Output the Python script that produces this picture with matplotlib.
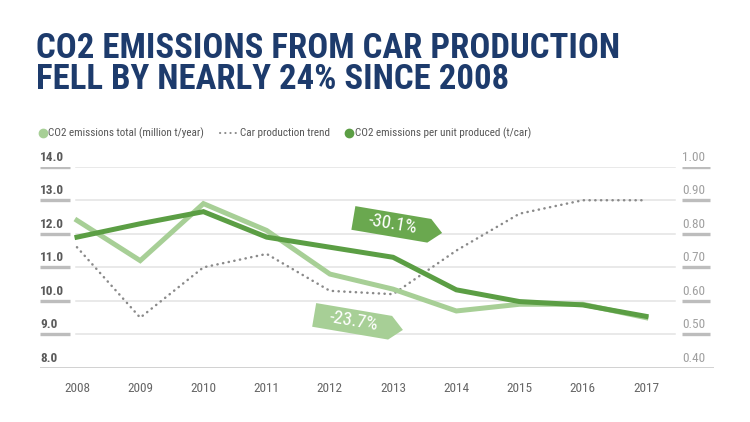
import os

import matplotlib

matplotlib.use("Agg")
import matplotlib.pyplot as plt
import matplotlib.transforms as mtransforms
from matplotlib import font_manager
from matplotlib.font_manager import FontProperties
from matplotlib.lines import Line2D
from matplotlib.patches import Polygon

# Data
years = [2008, 2009, 2010, 2011, 2012, 2013, 2014, 2015, 2016, 2017]
co2_total = [12.4, 11.2, 12.9, 12.1, 10.8, 10.35, 9.7, 9.9, 9.9, 9.5]     # million t/year (left)
car_trend = [11.6, 9.5, 11.0, 11.4, 10.3, 10.2, 11.5, 12.6, 13.0, 13.0]    # index, drawn on left scale
co2_per_unit = [0.79, 0.83, 0.866, 0.79, 0.76, 0.73, 0.633, 0.598, 0.588, 0.554]  # t/car (right)

left_ticks = [8.0, 9.0, 10.0, 11.0, 12.0, 13.0, 14.0]
right_ticks = [0.40, 0.50, 0.60, 0.70, 0.80, 0.90, 1.00]

title_lines = ["CO2 EMISSIONS FROM CAR PRODUCTION", "FELL BY NEARLY 24% SINCE 2008"]
legend_labels = ["CO2 emissions total (million t/year)", "Car production trend",
                 "CO2 emissions per unit produced (t/car)"]
badges = [("-30.1%", 2012.34, 0.812), ("-23.7%", 2011.72, 0.523)]

NAVY = "#1d3b6c"
LIGHT = "#a7cf96"
DARK = "#5b9e44"
DARK_BADGE = "#6aa84f"
GREY_DOT = "#8a8a8a"


def pick_font(prefs, fallback_weight):
    """Busca una fuente condensada instalada; si no, Roboto normal."""
    files = {os.path.basename(f.fname).lower(): f.fname
             for f in font_manager.fontManager.ttflist}
    for p in prefs:
        for base, path in files.items():
            if base.startswith(p):
                return FontProperties(fname=path), True
    return FontProperties(family="Roboto", weight=fallback_weight), False


REG, REG_COND = pick_font(["robotocondensed-regular", "liberationsansnarrow-regular",
                           "notosans-condensed.", "dejavusanscondensed.",
                           "opensans-condensedregular", "opensanscondensed-regular"], "normal")
BOLD, BOLD_COND = pick_font(["robotocondensed-bold.", "liberationsansnarrow-bold.",
                             "notosans-condensedbold.", "dejavusanscondensed-bold.",
                             "opensans-condensedbold", "opensanscondensed-bold"], "bold")


def fp(base, size):
    f = base.copy()
    f.set_size(size)
    return f


fig = plt.figure(figsize=(7.5, 4.22), dpi=100)
ax = fig.add_axes([40 / 750, 54 / 422, 674 / 750, 201.3 / 422])
ax2 = ax.twinx()

ax.set_xlim(2007.415, 2018.076)
ax.set_ylim(8.0, 14.0)
ax2.set_ylim(0.40, 1.00)

for a in (ax, ax2):
    for s in a.spines.values():
        s.set_visible(False)
    a.set_yticks([])
    a.tick_params(length=0)

# grid + short tick bars
yblend = mtransforms.blended_transform_factory(ax.transAxes, ax.transData)
for v in left_ticks[1:]:
    ax.plot([0.0534, 0.942], [v, v], transform=yblend, color="#e3e3e3", lw=1.1, zorder=0)
    ax.plot([0.0, 0.0445], [v, v], transform=yblend, color="#bdbdbd", lw=2.4,
            solid_capstyle="butt", zorder=0)
    ax.plot([0.9525, 0.994], [v, v], transform=yblend, color="#bdbdbd", lw=2.4,
            solid_capstyle="butt", zorder=0)
ax.plot([0, 1], [8.0, 8.0], transform=yblend, color="#c4c4c4", lw=1.8, zorder=0)

tick_size = 9.5 if REG_COND else 8.5
lab_off = mtransforms.offset_copy(yblend, fig=fig, x=0, y=3, units="dots")
for v in left_ticks:
    ax.text(0.0, v, f"{v:.1f}", transform=lab_off, ha="left", va="bottom",
            fontproperties=fp(BOLD, tick_size), color="#5a5a5a")
for v, lv in zip(right_ticks, left_ticks):
    ax.text(0.9525, lv, f"{v:.2f}", transform=lab_off, ha="left", va="bottom",
            fontproperties=fp(REG, tick_size), color="#a0a0a0")

ax.set_xticks(years)
ax.set_xticklabels([str(y) for y in years], fontproperties=fp(REG, tick_size), color="#666666")
ax.tick_params(axis="x", pad=10)

# series
ax.plot(years, car_trend, color=GREY_DOT, lw=1.8, linestyle=(0, (0.1, 2.2)),
        dash_capstyle="round", zorder=2)
ax.plot(years, co2_total, color=LIGHT, lw=3.6, solid_joinstyle="miter", zorder=3)
ax2.plot(years, co2_per_unit, color=DARK, lw=3.6, solid_joinstyle="miter", zorder=3)

# arrow-shaped badges
shape = [(0, 0), (77, 0), (90, 12), (77, 24), (0, 24)]
for (txt, bx, by), col in zip(badges, [DARK_BADGE, LIGHT]):
    tr = (mtransforms.Affine2D().rotate_deg(-9.6)
          + mtransforms.ScaledTranslation(bx, by, ax2.transData))
    ax2.add_patch(Polygon(shape, closed=True, transform=tr, facecolor=col,
                          edgecolor="none", zorder=5, clip_on=False))
    ax2.text(40, 12, txt, transform=tr, ha="center", va="center", rotation=-9.6,
             rotation_mode="anchor", fontproperties=fp(REG, 13.5 if REG_COND else 11.5),
             color="white", zorder=6)

# title (one text block, tight line pitch as in the reference)
title_size = 25 if BOLD_COND else 18
fig.text(36 / 750, 1 - 32 / 422, "\n".join(title_lines), ha="left", va="top",
         linespacing=0.93, fontproperties=fp(BOLD, title_size), color=NAVY)

# legend: items laid out one after another, starting where the reference starts
leg_size = 8 if REG_COND else 7
ly = 1 - 133 / 422
renderer = fig.canvas.get_renderer()
x = 38.0
handles = [("dot", LIGHT), ("dotted", GREY_DOT), ("dot", DARK)]
for (kind, col), label in zip(handles, legend_labels):
    if kind == "dot":
        fig.add_artist(Line2D([(x + 4.5) / 750], [ly], transform=fig.transFigure, marker="o",
                              markersize=6, color=col, linestyle="none"))
        x += 10
    else:
        fig.add_artist(Line2D([(x + 1) / 750, (x + 17) / 750], [ly, ly],
                              transform=fig.transFigure, color=col, lw=1.5,
                              linestyle=(0, (0.1, 2.4)), dash_capstyle="round"))
        x += 21
    t = fig.text(x / 750, ly, label, ha="left", va="center",
                 fontproperties=fp(REG, leg_size), color="#555555")
    x += t.get_window_extent(renderer).width + 15

fig.savefig("out.png", dpi=100)
